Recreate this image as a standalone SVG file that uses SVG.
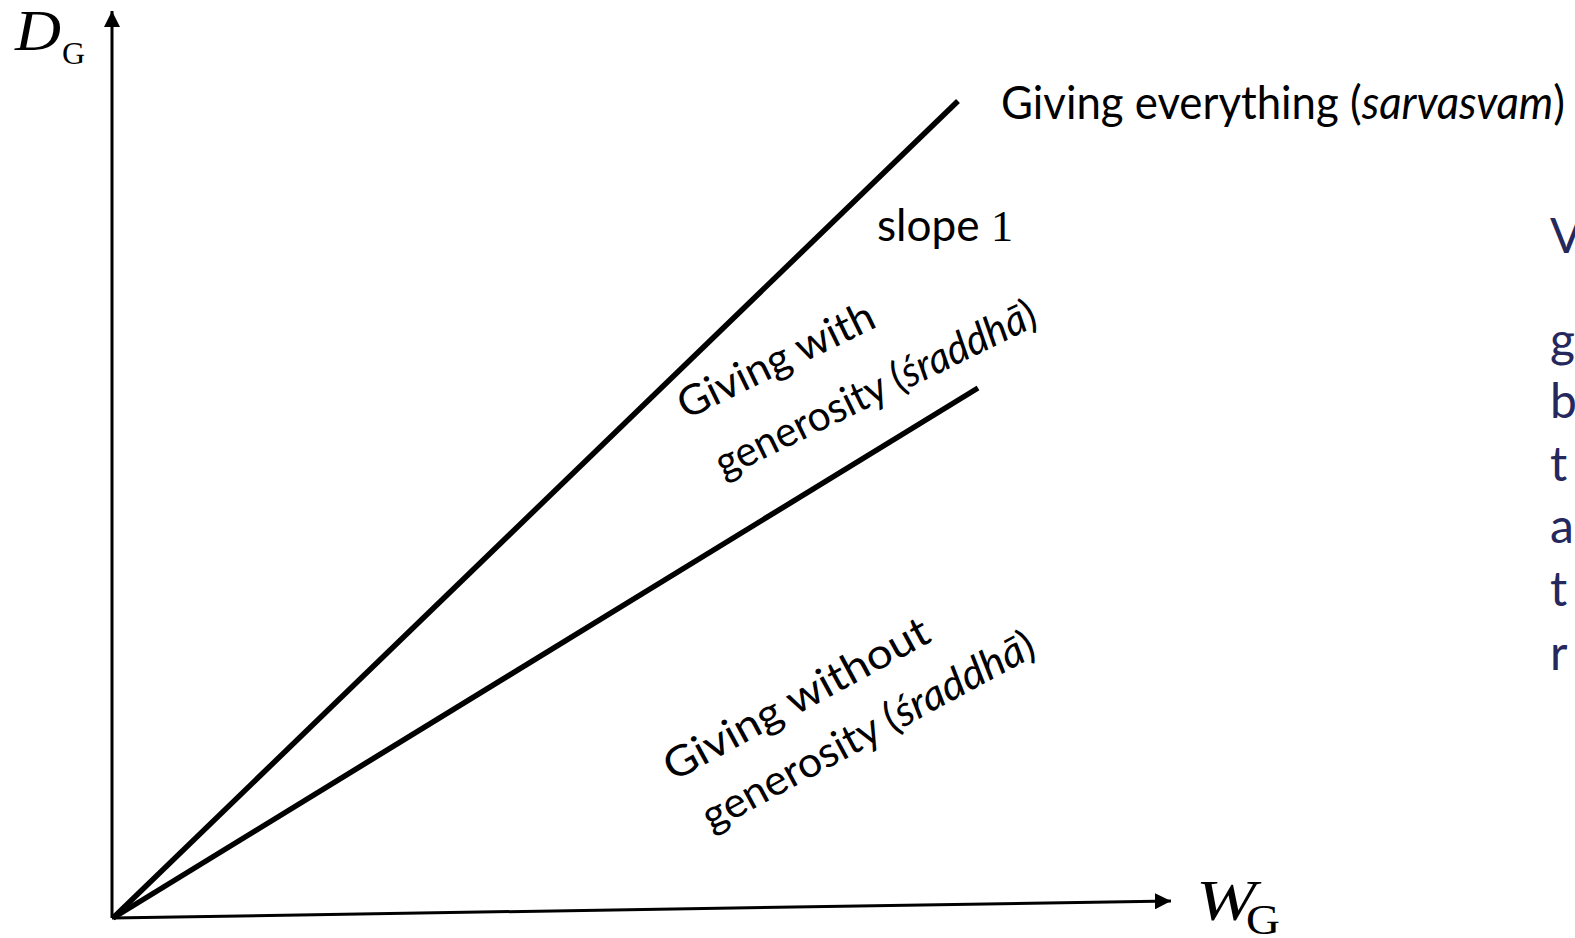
<svg xmlns="http://www.w3.org/2000/svg" width="1575" height="938" viewBox="0 0 1575 938">
  <style>
    .axis { stroke: #000; stroke-width: 3; fill: none; }
    .ray { stroke: #000; stroke-width: 5.5; fill: none; stroke-linecap: butt; }
    .lbl { font-family: Lato, "Open Sans", sans-serif; fill: #000; }
    .math { font-family: "Liberation Serif", serif; fill: #000; }
    .side { font-family: Lato, "Open Sans", sans-serif; font-size: 48px; fill: #25285c; }
  </style>
  <defs>
    <marker id="arrow" viewBox="0 0 10 10" refX="10" refY="5" markerWidth="5.4" markerHeight="5.4" orient="auto" markerUnits="strokeWidth">
      <path d="M0,0 L10,5 L0,10 z" fill="#000"/>
    </marker>
  </defs>
  <rect width="1575" height="938" fill="#fff"/>

  <!-- axes and budget lines -->
  <g id="connectors">
    <line class="axis" x1="112" y1="918" x2="112" y2="11" marker-end="url(#arrow)"/>
    <line class="axis" x1="112" y1="918" x2="1171" y2="901" marker-end="url(#arrow)"/>
    <line class="ray" x1="113" y1="918" x2="958" y2="101"/>
    <line class="ray" x1="113" y1="918" x2="978" y2="388"/>
  </g>

  <!-- axis titles -->
  <g id="axis-y-title">
    <text class="math" x="15" y="50" font-size="56" font-style="italic" textLength="46" lengthAdjust="spacingAndGlyphs">D</text>
    <text class="math" x="62" y="64" font-size="32">G</text>
  </g>
  <g id="axis-x-title">
    <text class="math" x="1196" y="920" font-size="58" font-style="italic" textLength="60" lengthAdjust="spacingAndGlyphs">W</text>
    <text class="math" x="1246" y="934" font-size="42" textLength="34" lengthAdjust="spacingAndGlyphs">G</text>
  </g>

  <!-- line annotations -->
  <g id="label-everything">
    <text class="lbl" x="1001" y="119" font-size="46" textLength="564" lengthAdjust="spacingAndGlyphs">Giving everything (<tspan font-style="italic">sarvasvam</tspan>)</text>
  </g>
  <g id="label-slope">
    <text class="lbl" x="877" y="241" font-size="44" textLength="136" lengthAdjust="spacingAndGlyphs">slope <tspan class="math">1</tspan></text>
  </g>

  <!-- region labels -->
  <g id="label-with" transform="translate(686,420) rotate(-26)">
    <text class="lbl" x="0" y="0" font-size="42" textLength="214" lengthAdjust="spacingAndGlyphs">Giving with</text>
    <text class="lbl" x="8" y="69" font-size="42" textLength="352" lengthAdjust="spacingAndGlyphs">generosity (<tspan font-style="italic">śraddhā</tspan>)</text>
  </g>
  <g id="label-without" transform="translate(673,782) rotate(-28.5)">
    <text class="lbl" x="0" y="0" font-size="42" textLength="296" lengthAdjust="spacingAndGlyphs">Giving without</text>
    <text class="lbl" x="10" y="62" font-size="42" textLength="372" lengthAdjust="spacingAndGlyphs">generosity (<tspan font-style="italic">śraddhā</tspan>)</text>
  </g>

  <!-- margin text running off the right edge -->
  <g id="side-text">
    <text class="side" x="1550" y="253">V</text>
    <text class="side" x="1550" y="357">g</text>
    <text class="side" x="1550" y="418">b</text>
    <text class="side" x="1550" y="481">t</text>
    <text class="side" x="1550" y="543">a</text>
    <text class="side" x="1550" y="606">t</text>
    <text class="side" x="1550" y="670">r</text>
  </g>
</svg>
